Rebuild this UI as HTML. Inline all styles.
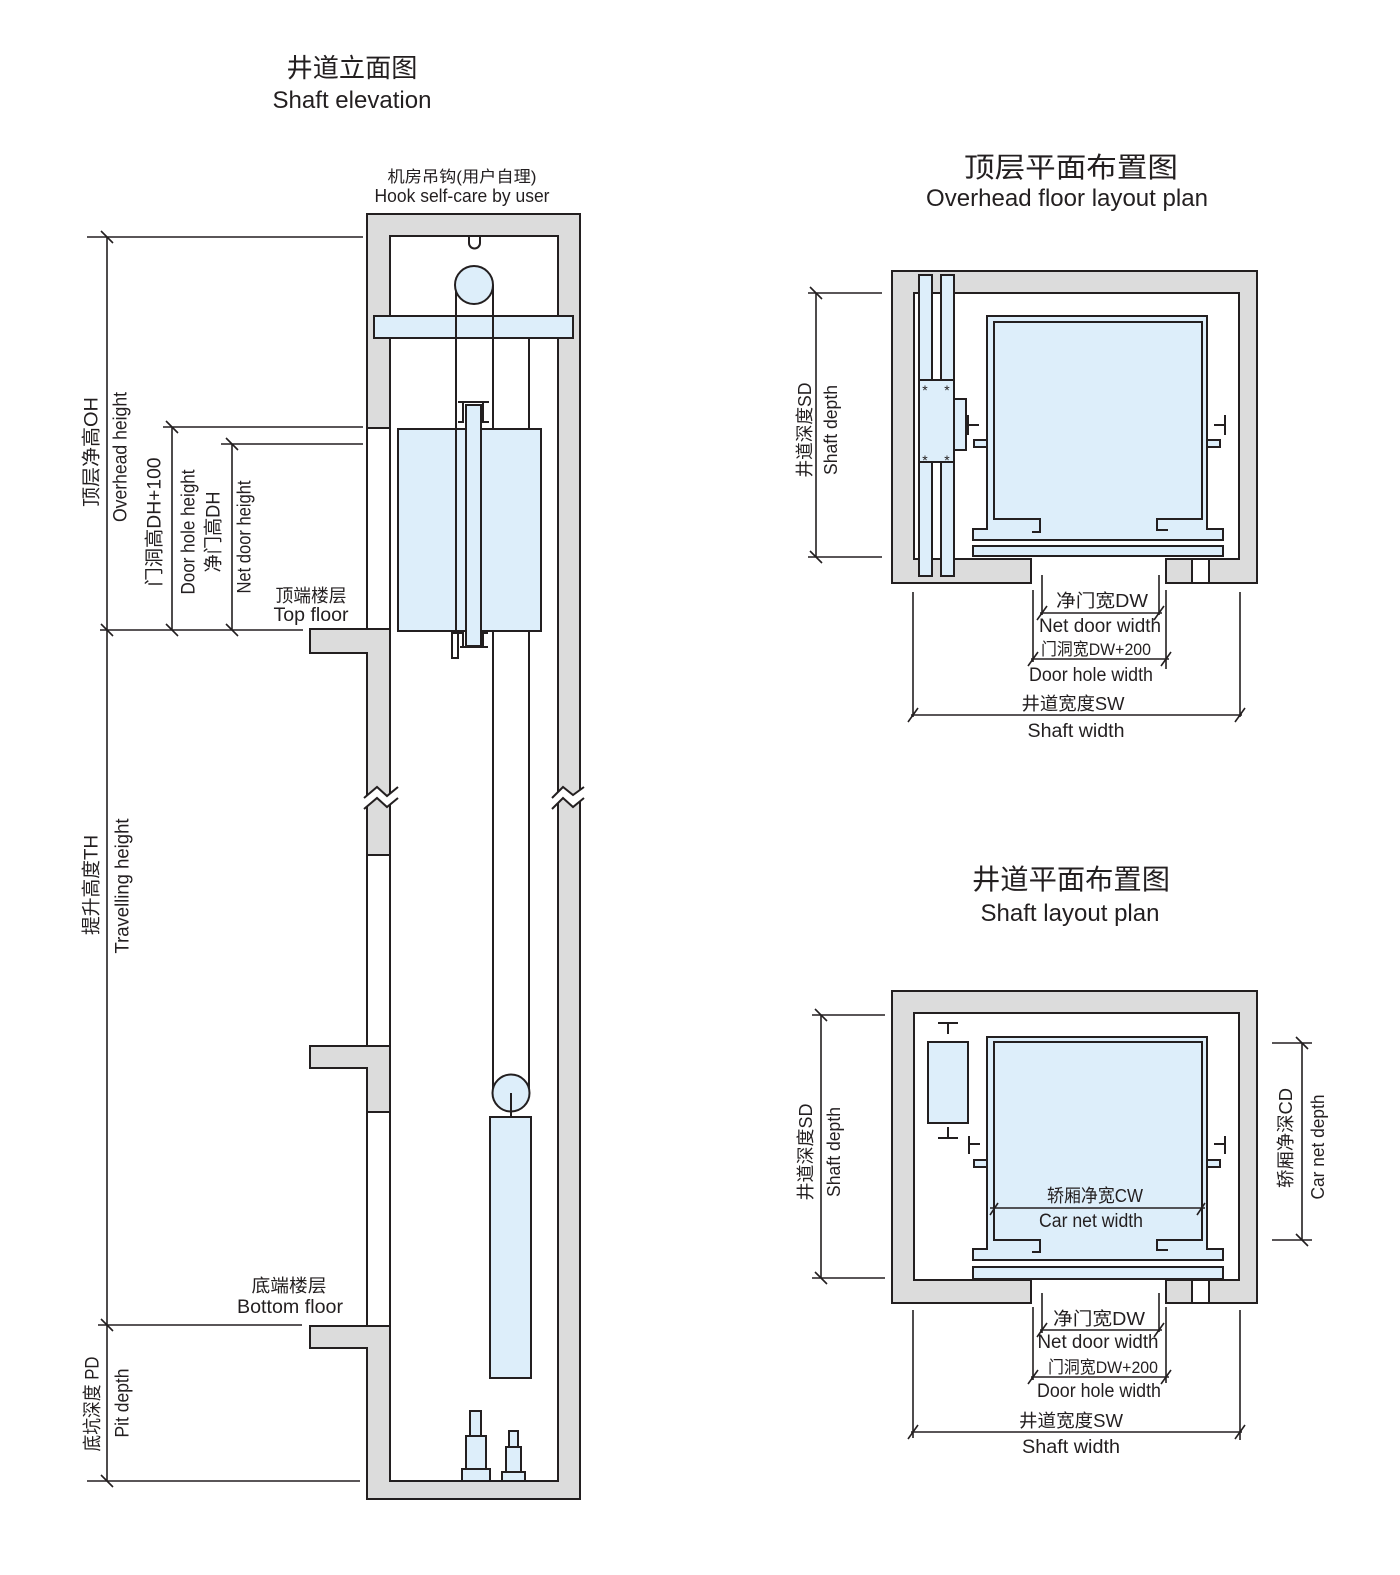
<!DOCTYPE html>
<html><head><meta charset="utf-8">
<style>
html,body{margin:0;padding:0;background:#fff;}
svg{display:block;}
text{font-family:"Liberation Sans","Noto Sans CJK SC",sans-serif;fill:#231f20;}
</style></head><body>
<svg width="1400" height="1575" viewBox="0 0 1400 1575" xmlns="http://www.w3.org/2000/svg">
<rect x="0" y="0" width="1400" height="1575" fill="#fff"/>

<!-- ============ TITLES ============ -->
<text x="352" y="77" font-size="26" text-anchor="middle" textLength="131" lengthAdjust="spacingAndGlyphs">井道立面图</text>
<text x="352" y="108" font-size="24" text-anchor="middle" textLength="159" lengthAdjust="spacingAndGlyphs">Shaft elevation</text>
<text x="462" y="182" font-size="16" text-anchor="middle" textLength="149" lengthAdjust="spacingAndGlyphs">机房吊钩(用户自理)</text>
<text x="462" y="202" font-size="18" text-anchor="middle" textLength="175" lengthAdjust="spacingAndGlyphs">Hook self-care by user</text>

<text x="1071" y="177" font-size="28" text-anchor="middle" textLength="214" lengthAdjust="spacingAndGlyphs">顶层平面布置图</text>
<text x="1067" y="206" font-size="24" text-anchor="middle" textLength="282" lengthAdjust="spacingAndGlyphs">Overhead floor layout plan</text>
<text x="1071" y="889" font-size="28" text-anchor="middle" textLength="198" lengthAdjust="spacingAndGlyphs">井道平面布置图</text>
<text x="1070" y="921" font-size="24" text-anchor="middle" textLength="179" lengthAdjust="spacingAndGlyphs">Shaft layout plan</text>

<!-- ============ ELEVATION ============ -->
<g stroke="#231f20" stroke-width="2" fill="none">
  <rect x="367" y="214" width="213" height="1285" fill="#dcdcdc"/>
  <rect x="390" y="236" width="168" height="1245" fill="#fff"/>
  <rect x="368" y="429" width="21" height="200" fill="#fff" stroke="none"/>
  <rect x="368" y="856" width="21" height="190" fill="#fff" stroke="none"/>
  <rect x="368" y="1113" width="21" height="213" fill="#fff" stroke="none"/>
  <line x1="367" y1="428" x2="390" y2="428"/>
  <line x1="367" y1="855" x2="390" y2="855"/>
  <line x1="367" y1="1112" x2="390" y2="1112"/>
  <rect x="311" y="630" width="78" height="22" fill="#dcdcdc" stroke="none"/>
  <path d="M367,653 L310,653 L310,629 L390,629"/>
  <rect x="311" y="1047" width="78" height="20" fill="#dcdcdc" stroke="none"/>
  <path d="M367,1068 L310,1068 L310,1046 L390,1046"/>
  <rect x="311" y="1327" width="78" height="20" fill="#dcdcdc" stroke="none"/>
  <path d="M367,1348 L310,1348 L310,1326 L390,1326"/>
  <polygon points="364,797 377,787 387,796 398,787 398,799 387,808 377,798 364,808" fill="#fff" stroke="none"/>
  <polyline points="364,798 377,787 387,796 398,787"/>
  <polyline points="364,809 377,798 387,807 398,798"/>
  <polygon points="552,797 563,787 573,795 584,787 584,798 573,807 563,798 552,808" fill="#fff" stroke="none"/>
  <polyline points="552,798 563,787 573,795 584,787"/>
  <polyline points="552,809 563,798 573,807 584,798"/>

  <path d="M469,236 L469,243 A5.5,5.5 0 0 0 480,243 L480,236"/>
  <rect x="374" y="316" width="199" height="22" fill="#ddeefa"/>
  <line x1="456" y1="285" x2="456" y2="634"/>
  <line x1="493" y1="285" x2="493" y2="1093"/>
  <line x1="529" y1="338" x2="529" y2="1093"/>
  <circle cx="474" cy="285" r="19" fill="#ddeefa"/>

  <rect x="398" y="429" width="143" height="202" fill="#ddeefa"/>
  <line x1="456" y1="429" x2="456" y2="631"/>
  <rect x="466" y="405" width="15" height="241" fill="#ddeefa"/>
  <path d="M458,402 L489,402 M463,402 L463,422 L458,422 M483,402 L483,422 L489,422"/>
  <path d="M460,647 L488,647 M463,647 L463,633 L459,633 M483,647 L483,633 L488,633"/>
  <rect x="452" y="633" width="6" height="25" fill="#fff"/>

  <circle cx="511" cy="1093" r="18.5" fill="#ddeefa"/>
  <line x1="511" y1="1093" x2="511" y2="1117"/>
  <rect x="490" y="1117" width="41" height="261" fill="#ddeefa"/>

  <rect x="470" y="1411" width="11" height="25" fill="#ddeefa"/>
  <rect x="466" y="1436" width="20" height="33" fill="#ddeefa"/>
  <rect x="462" y="1469" width="28" height="12" fill="#ddeefa"/>
  <rect x="509" y="1431" width="9" height="16" fill="#ddeefa"/>
  <rect x="506" y="1447" width="15" height="25" fill="#ddeefa"/>
  <rect x="502" y="1472" width="23" height="9" fill="#ddeefa"/>
</g>

<g stroke="#231f20" stroke-width="1.6" fill="none">
  <line x1="87" y1="237" x2="363" y2="237"/>
  <line x1="163" y1="427" x2="363" y2="427"/>
  <line x1="221" y1="444" x2="363" y2="444"/>
  <line x1="100" y1="630" x2="303" y2="630"/>
  <line x1="98" y1="1325" x2="302" y2="1325"/>
  <line x1="87" y1="1481" x2="360" y2="1481"/>
  <line x1="107" y1="237" x2="107" y2="1481"/>
  <line x1="172" y1="427" x2="172" y2="630"/>
  <line x1="232" y1="444" x2="232" y2="630"/>
  <path d="M101,231 L113,243 M101,624 L113,636 M101,1319 L113,1331 M101,1475 L113,1487 M166,421 L178,433 M166,624 L178,636 M226,438 L238,450 M226,624 L238,636"/>
</g>

<g font-size="19">
  <text transform="translate(92,452) rotate(-90)" text-anchor="middle" dominant-baseline="central" textLength="110" lengthAdjust="spacingAndGlyphs">顶层净高OH</text>
  <text transform="translate(121,457) rotate(-90)" text-anchor="middle" dominant-baseline="central" textLength="130" lengthAdjust="spacingAndGlyphs">Overhead height</text>
  <text transform="translate(155,522) rotate(-90)" text-anchor="middle" dominant-baseline="central" textLength="129" lengthAdjust="spacingAndGlyphs">门洞高DH+100</text>
  <text transform="translate(189,532) rotate(-90)" text-anchor="middle" dominant-baseline="central" textLength="125" lengthAdjust="spacingAndGlyphs">Door hole height</text>
  <text transform="translate(214,532) rotate(-90)" text-anchor="middle" dominant-baseline="central" textLength="81" lengthAdjust="spacingAndGlyphs">净门高DH</text>
  <text transform="translate(245,537) rotate(-90)" text-anchor="middle" dominant-baseline="central" textLength="113" lengthAdjust="spacingAndGlyphs">Net door height</text>
  <text transform="translate(92,885) rotate(-90)" text-anchor="middle" dominant-baseline="central" textLength="100" lengthAdjust="spacingAndGlyphs">提升高度TH</text>
  <text transform="translate(123,886) rotate(-90)" text-anchor="middle" dominant-baseline="central" textLength="135" lengthAdjust="spacingAndGlyphs">Travelling height</text>
  <text transform="translate(93,1404) rotate(-90)" text-anchor="middle" dominant-baseline="central" textLength="95" lengthAdjust="spacingAndGlyphs">底坑深度 PD</text>
  <text transform="translate(123,1403) rotate(-90)" text-anchor="middle" dominant-baseline="central" textLength="69" lengthAdjust="spacingAndGlyphs">Pit depth</text>
</g>
<text x="311" y="602" font-size="18" text-anchor="middle" textLength="71" lengthAdjust="spacingAndGlyphs">顶端楼层</text>
<text x="311" y="621" font-size="19" text-anchor="middle" textLength="75" lengthAdjust="spacingAndGlyphs">Top floor</text>
<text x="289" y="1292" font-size="18" text-anchor="middle" textLength="75" lengthAdjust="spacingAndGlyphs">底端楼层</text>
<text x="290" y="1313" font-size="19" text-anchor="middle" textLength="106" lengthAdjust="spacingAndGlyphs">Bottom floor</text>

<!-- ============ OVERHEAD PLAN ============ -->
<g stroke="#231f20" stroke-width="2" fill="none">
  <path d="M1031,583 L892,583 L892,271 L1257,271 L1257,583 L1166,583 L1166,559 L1239,559 L1239,293 L914,293 L914,559 L1031,559 Z" fill="#dcdcdc"/>
  <rect x="1192" y="559" width="17" height="24" fill="#fff"/>
  <rect x="919" y="275" width="13" height="301" fill="#ddeefa"/>
  <rect x="941" y="275" width="13" height="301" fill="#ddeefa"/>
  <rect x="919" y="380" width="35" height="82" fill="#ddeefa"/>
  <rect x="954" y="399" width="12" height="51" fill="#ddeefa"/>
  <path d="M968,415 L968,435 M968,425 L979,425"/>
  <rect x="974" y="440" width="13" height="7" fill="#ddeefa"/>
  <path d="M987,316 L1207,316 L1207,529 L1223,529 L1223,540 L973,540 L973,529 L987,529 Z" fill="#ddeefa"/>
  <path d="M1032,532 L1040,532 L1040,519 L994,519 L994,322 L1202,322 L1202,519 L1157,519 L1157,530 L1168,530"/>
  <rect x="973" y="546" width="250" height="10" fill="#ddeefa"/>
  <path d="M1225,415 L1225,435 M1214,425 L1225,425"/>
  <rect x="1207" y="440" width="13" height="7" fill="#ddeefa"/>
</g>
<g font-size="14" text-anchor="middle">
  <text x="925" y="395">*</text><text x="947" y="395">*</text>
  <text x="925" y="465">*</text><text x="947" y="465">*</text>
</g>

<g stroke="#231f20" stroke-width="1.6" fill="none">
  <line x1="808" y1="293" x2="882" y2="293"/>
  <line x1="808" y1="557" x2="882" y2="557"/>
  <line x1="816" y1="293" x2="816" y2="557"/>
  <path d="M810,287 L822,299 M810,551 L822,563"/>
  <line x1="1042" y1="575" x2="1042" y2="615"/>
  <line x1="1159" y1="575" x2="1159" y2="615"/>
  <line x1="1040" y1="613" x2="1162" y2="613"/>
  <line x1="1033" y1="590" x2="1033" y2="662"/>
  <line x1="1166" y1="590" x2="1166" y2="669"/>
  <line x1="1031" y1="659" x2="1169" y2="659"/>
  <line x1="913" y1="592" x2="913" y2="717"/>
  <line x1="1240" y1="592" x2="1240" y2="717"/>
  <line x1="911" y1="715" x2="1242" y2="715"/>
  <path d="M1037,620 L1047,606 M1154,620 L1164,606 M1028,666 L1038,652 M1161,666 L1171,652 M908,722 L918,708 M1235,722 L1245,708"/>
</g>
<text transform="translate(805,430) rotate(-90)" font-size="18" text-anchor="middle" dominant-baseline="central" textLength="95" lengthAdjust="spacingAndGlyphs">井道深度SD</text>
<text transform="translate(831,430) rotate(-90)" font-size="18" text-anchor="middle" dominant-baseline="central" textLength="90" lengthAdjust="spacingAndGlyphs">Shaft depth</text>
<text x="1102" y="607" font-size="18" text-anchor="middle" textLength="92" lengthAdjust="spacingAndGlyphs">净门宽DW</text>
<text x="1100" y="632" font-size="19" text-anchor="middle" textLength="122" lengthAdjust="spacingAndGlyphs">Net door width</text>
<text x="1096" y="655" font-size="17" text-anchor="middle" textLength="110" lengthAdjust="spacingAndGlyphs">门洞宽DW+200</text>
<text x="1091" y="681" font-size="19" text-anchor="middle" textLength="124" lengthAdjust="spacingAndGlyphs">Door hole width</text>
<text x="1073" y="710" font-size="18" text-anchor="middle" textLength="103" lengthAdjust="spacingAndGlyphs">井道宽度SW</text>
<text x="1076" y="737" font-size="19" text-anchor="middle" textLength="97" lengthAdjust="spacingAndGlyphs">Shaft width</text>

<!-- ============ SHAFT LAYOUT PLAN ============ -->
<g stroke="#231f20" stroke-width="2" fill="none">
  <path d="M1031,1303 L892,1303 L892,991 L1257,991 L1257,1303 L1166,1303 L1166,1280 L1239,1280 L1239,1013 L914,1013 L914,1280 L1031,1280 Z" fill="#dcdcdc"/>
  <rect x="1192" y="1280" width="17" height="23" fill="#fff"/>
  <rect x="928" y="1042" width="40" height="81" fill="#ddeefa"/>
  <path d="M938,1023 L958,1023 M948,1023 L948,1034 M938,1138 L958,1138 M948,1127 L948,1138"/>
  <path d="M969,1136 L969,1154 M969,1144 L980,1144"/>
  <rect x="974" y="1160" width="13" height="7" fill="#ddeefa"/>
  <path d="M987,1037 L1207,1037 L1207,1249 L1223,1249 L1223,1260 L973,1260 L973,1249 L987,1249 Z" fill="#ddeefa"/>
  <path d="M1032,1252 L1040,1252 L1040,1240 L994,1240 L994,1042 L1202,1042 L1202,1240 L1157,1240 L1157,1250 L1168,1250"/>
  <rect x="973" y="1267" width="250" height="12" fill="#ddeefa"/>
  <path d="M1225,1136 L1225,1154 M1214,1144 L1225,1144"/>
  <rect x="1207" y="1160" width="13" height="7" fill="#ddeefa"/>
</g>
<g stroke="#231f20" stroke-width="1.6" fill="none">
  <line x1="990" y1="1208" x2="1205" y2="1208"/>
  <path d="M990,1215 L998,1203 M1197,1215 L1205,1203"/>
  <line x1="812" y1="1015" x2="885" y2="1015"/>
  <line x1="812" y1="1278" x2="885" y2="1278"/>
  <line x1="821" y1="1015" x2="821" y2="1278"/>
  <path d="M815,1009 L827,1021 M815,1272 L827,1284"/>
  <line x1="1272" y1="1043" x2="1312" y2="1043"/>
  <line x1="1272" y1="1240" x2="1312" y2="1240"/>
  <line x1="1302" y1="1043" x2="1302" y2="1240"/>
  <path d="M1296,1037 L1308,1049 M1296,1234 L1308,1246"/>
  <line x1="1042" y1="1293" x2="1042" y2="1333"/>
  <line x1="1159" y1="1293" x2="1159" y2="1332"/>
  <line x1="1040" y1="1330" x2="1162" y2="1330"/>
  <line x1="1033" y1="1307" x2="1033" y2="1380"/>
  <line x1="1166" y1="1307" x2="1166" y2="1383"/>
  <line x1="1031" y1="1377" x2="1169" y2="1377"/>
  <line x1="913" y1="1310" x2="913" y2="1438"/>
  <line x1="1240" y1="1310" x2="1240" y2="1440"/>
  <line x1="911" y1="1432" x2="1242" y2="1432"/>
  <path d="M1037,1337 L1047,1323 M1154,1337 L1164,1323 M1028,1384 L1038,1370 M1161,1384 L1171,1370 M908,1439 L918,1425 M1235,1439 L1245,1425"/>
</g>
<text x="1095" y="1202" font-size="18" text-anchor="middle" textLength="96" lengthAdjust="spacingAndGlyphs">轿厢净宽CW</text>
<text x="1091" y="1227" font-size="19" text-anchor="middle" textLength="104" lengthAdjust="spacingAndGlyphs">Car net width</text>
<text transform="translate(806,1152) rotate(-90)" font-size="18" text-anchor="middle" dominant-baseline="central" textLength="97" lengthAdjust="spacingAndGlyphs">井道深度SD</text>
<text transform="translate(834,1152) rotate(-90)" font-size="18" text-anchor="middle" dominant-baseline="central" textLength="90" lengthAdjust="spacingAndGlyphs">Shaft depth</text>
<text transform="translate(1286,1138) rotate(-90)" font-size="18" text-anchor="middle" dominant-baseline="central" textLength="100" lengthAdjust="spacingAndGlyphs">轿厢净深CD</text>
<text transform="translate(1318,1147) rotate(-90)" font-size="18" text-anchor="middle" dominant-baseline="central" textLength="105" lengthAdjust="spacingAndGlyphs">Car net depth</text>
<text x="1099" y="1325" font-size="18" text-anchor="middle" textLength="92" lengthAdjust="spacingAndGlyphs">净门宽DW</text>
<text x="1098" y="1348" font-size="19" text-anchor="middle" textLength="121" lengthAdjust="spacingAndGlyphs">Net door width</text>
<text x="1103" y="1373" font-size="17" text-anchor="middle" textLength="110" lengthAdjust="spacingAndGlyphs">门洞宽DW+200</text>
<text x="1099" y="1397" font-size="19" text-anchor="middle" textLength="124" lengthAdjust="spacingAndGlyphs">Door hole width</text>
<text x="1071" y="1427" font-size="18" text-anchor="middle" textLength="104" lengthAdjust="spacingAndGlyphs">井道宽度SW</text>
<text x="1071" y="1453" font-size="19" text-anchor="middle" textLength="98" lengthAdjust="spacingAndGlyphs">Shaft width</text>
</svg>
</body></html>
